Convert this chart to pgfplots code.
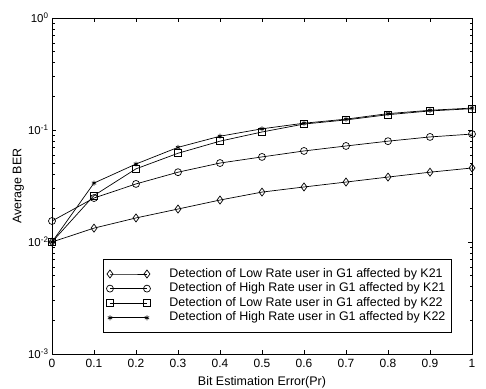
\documentclass[border=0pt]{standalone}
\usepackage{pgfplots}
\pgfplotsset{compat=1.18}
\usepackage{fontspec}
\setmainfont{Liberation Sans}
\begin{document}
\begin{tikzpicture}
\path[use as bounding box] (-52bp,-35bp) rectangle (434bp,354bp);
\begin{axis}[
  at={(0,0)}, anchor=south west,
  scale only axis,
  width=420bp, height=336bp,
  xmin=0, xmax=1, ymin=1e-3, ymax=1,
  ymode=log,
  xtick={0,0.1,0.2,0.3,0.4,0.5,0.6,0.7,0.8,0.9,1},
  xticklabels={0,0.1,0.2,0.3,0.4,0.5,0.6,0.7,0.8,0.9,1},
  ytick={1e-3,1e-2,1e-1,1},
  yticklabels={{10\textsuperscript{-3}},{10\textsuperscript{-2}},{10\textsuperscript{-1}},{10\textsuperscript{0}}},
  xticklabel style={font=\fontsize{12}{14}\selectfont, yshift=-1.5bp},
  yticklabel style={font=\fontsize{11.5}{13}\selectfont},
  tick align=inside,
  major tick length=4bp, minor tick length=2.5bp,
  axis line style={line width=0.8pt},
  every tick/.style={black, line width=0.5pt},
  xlabel={Bit Estimation Error(Pr)},
  ylabel={Average BER},
  every axis x label/.style={at={(axis description cs:0.5,-0.0833)}, anchor=center, font=\fontsize{12.5}{14}\selectfont},
  every axis y label/.style={at={(axis description cs:-0.0798,0.5)}, anchor=center, rotate=90, font=\fontsize{12.5}{14}\selectfont},
  legend cell align=left,
  legend style={at={(0.952,0.0625)}, anchor=south east, draw=black, line width=0.8pt,
    font=\fontsize{12.5}{14}\selectfont, inner xsep=3bp, inner ysep=7.5bp, row sep=0pt, column sep=16bp,
    nodes={text height=9bp, text depth=3bp, inner ysep=1.3bp, inner xsep=3bp}},
  legend image code/.code={
    \draw[mark repeat=2,mark phase=1,#1] plot coordinates {(0bp,0bp)(18.5bp,0bp)(37bp,0bp)};
  },
]
\addplot[black, line width=0.7pt, mark=diamond, mark size=4pt, mark options={solid, fill=white}] coordinates {
(0,0.0100) (0.1,0.0133) (0.2,0.0164) (0.3,0.0197) (0.4,0.0237) (0.5,0.0279) (0.6,0.0310) (0.7,0.0343) (0.8,0.0380) (0.9,0.0420) (1.0,0.0458)};
\addlegendentry{Detection of Low Rate user in G1 affected by K21}
\addplot[black, line width=0.7pt, mark=o, mark size=3.5pt, mark options={solid, fill=white}] coordinates {
(0,0.0154) (0.1,0.0247) (0.2,0.0330) (0.3,0.0420) (0.4,0.0507) (0.5,0.0575) (0.6,0.0650) (0.7,0.0720) (0.8,0.0795) (0.9,0.0867) (1.0,0.0920)};
\addlegendentry{Detection of High Rate user in G1 affected by K21}
\addplot[black, line width=0.7pt, mark=square, mark size=3.5pt, mark options={solid, fill=white}] coordinates {
(0,0.0100) (0.1,0.0260) (0.2,0.0450) (0.3,0.0620) (0.4,0.0795) (0.5,0.0960) (0.6,0.1130) (0.7,0.1230) (0.8,0.1370) (0.9,0.1480) (1.0,0.1550)};
\addlegendentry{Detection of Low Rate user in G1 affected by K22}
\addplot[black, line width=0.7pt, mark=asterisk, mark size=2.5pt, mark options={solid}] coordinates {
(0,0.0100) (0.1,0.0336) (0.2,0.0497) (0.3,0.0700) (0.4,0.0880) (0.5,0.1025) (0.6,0.1150) (0.7,0.1250) (0.8,0.1400) (0.9,0.1500) (1.0,0.1570)};
\addlegendentry{Detection of High Rate user in G1 affected by K22}
\end{axis}
\end{tikzpicture}
\end{document}
